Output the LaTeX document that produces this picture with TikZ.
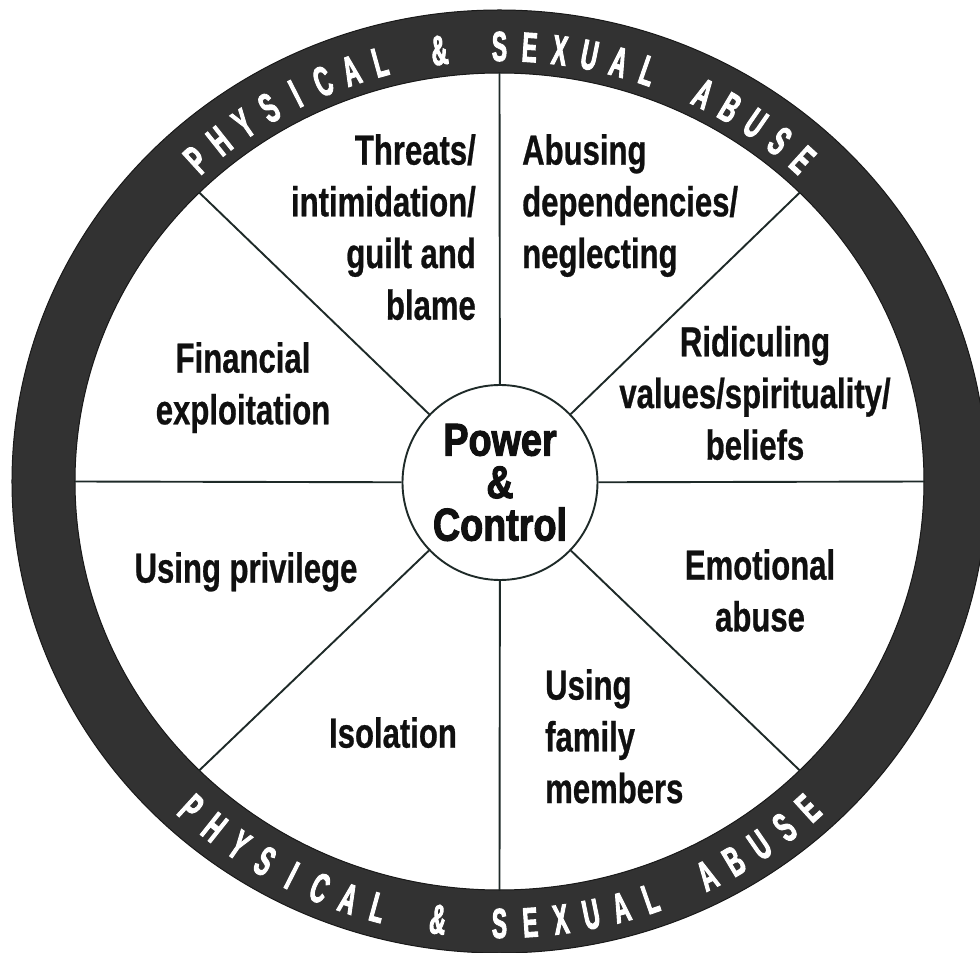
\documentclass[tikz,border=0pt]{standalone}
\usepackage{fontspec}
\setmainfont{Liberation Sans}
\newfontfamily\labelfont[FakeStretch=0.74, FakeBold=0.6]{Liberation Sans}
\newfontfamily\ringfont[FakeStretch=0.54, FakeBold=2.2]{Liberation Sans}
\newfontfamily\hubfont[FakeStretch=0.82, FakeBold=2.2]{Liberation Sans}
\definecolor{ringgray}{RGB}{50,50,50}
\definecolor{spokecol}{RGB}{30,42,40}
\definecolor{inkcol}{RGB}{16,16,16}

\begin{document}
\begin{tikzpicture}[x=1pt,y=1pt,
  ringband/.style={fill=ringgray, draw=black!90, line width=1pt, even odd rule},
  spoke/.style={draw=spokecol, line width=1.9pt},
  hub/.style={circle, draw=spokecol, line width=1.9pt, fill=white,
    minimum size=195pt, inner sep=0pt, align=center, text=inkcol,
    font=\hubfont\bfseries\fontsize{46}{42.5}\selectfont},
  wedge/.style={inner sep=0pt, text=inkcol,
    font=\labelfont\bfseries\fontsize{42}{51.7}\selectfont},
  ringletter/.style={text=white, inner sep=0pt,
    font=\ringfont\bfseries\fontsize{42}{42}\selectfont}
]
\useasboundingbox (-499.5,-471.5) rectangle (480.5,481.5);
\fill[white] (-499.5,-471.5) rectangle (480.5,481.5);

% outer band of the wheel
\path[ringband] (0,0) ellipse [x radius=487.5, y radius=471.5]
                (0,0) ellipse [x radius=424.5, y radius=408.5];

% spoke ends on the inner rim of the band
\foreach \k in {0,...,7}
  \coordinate (s\k) at ({424.5*cos(45*\k)},{408.5*sin(45*\k)});

% hub
\node[hub] (pc) at (0.5,-1) {Power\\\&\\Control};

% spokes
\foreach \k in {0,...,7}
  \draw[spoke] (pc) -- (s\k);

% wedge labels
\node[wedge, align=right, anchor=north east] (threat) at (-23.5,347.5)
  {Threats/\\intimidation/\\guilt and\\blame};
\node[wedge, align=left, anchor=north west] (depend) at (22.5,347.5)
  {Abusing\\dependencies/\\neglecting};
\node[wedge, align=center, anchor=north] (ridicule) at (255.5,155.8)
  {Ridiculing\\values/spirituality/\\beliefs};
\node[wedge, align=center, anchor=north] (finance) at (-256.5,139.5)
  {Financial\\exploitation};
\node[wedge, anchor=north] (privilege) at (-253.5,-70.5) {Using privilege};
\node[wedge, align=center, anchor=north] (emotion) at (260.5,-67.5)
  {Emotional\\abuse};
\node[wedge, anchor=north] (isolate) at (-106.5,-235.5) {Isolation};
\node[wedge, align=left, anchor=north west] (family) at (45.5,-187.5)
  {Using\\family\\members};

% lettering around the band, top and bottom
\foreach \i/\ch in {0/P,1/H,2/Y,3/S,4/I,5/C,6/A,7/L,9/\&,11/S,12/E,13/X,
                    14/U,15/A,16/L,18/A,19/B,20/U,21/S,22/E} {
  \pgfmathsetmacro\ta{132.35-3.85*\i}
  \node[ringletter, rotate=\ta-90] (top\i) at ({450*cos(\ta)},{435*sin(\ta)}) {\ch};
  \pgfmathsetmacro\tb{-132.35+3.85*\i}
  \node[ringletter, rotate=\tb+90] (bot\i) at ({458*cos(\tb)},{442*sin(\tb)}) {\ch};
}
\end{tikzpicture}
\end{document}
